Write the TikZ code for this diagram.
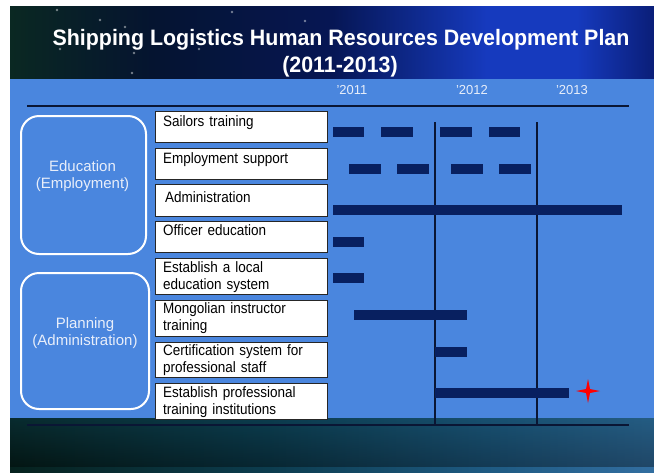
\documentclass[tikz,border=0pt]{standalone}
\usepackage{fontspec}
\setmainfont{Liberation Sans}
\newfontfamily\taskfont[FakeStretch=0.9, WordSpace=0.6]{Liberation Sans}
\newfontfamily\titlefont[FakeStretch=0.96]{Liberation Sans}
\usetikzlibrary{positioning}

\definecolor{slideblue}{RGB}{74,134,222}
\definecolor{barnavy}{RGB}{8,32,96}
\definecolor{rulenavy}{RGB}{10,22,52}
\definecolor{paletext}{RGB}{232,238,250}
\definecolor{hdA}{RGB}{10,40,34}
\definecolor{hdB}{RGB}{5,20,48}
\definecolor{hdC}{RGB}{6,22,84}
\definecolor{hdD}{RGB}{22,58,190}
\definecolor{hdE}{RGB}{10,30,120}
\definecolor{ftA}{RGB}{6,34,30}
\definecolor{ftB}{RGB}{12,60,78}
\definecolor{ftC}{RGB}{30,90,130}
\definecolor{ftD}{RGB}{50,110,160}

\pgfdeclarehorizontalshading{headshade}{100bp}{color(0bp)=(hdA); color(25bp)=(hdA);
  color(36bp)=(hdB); color(50bp)=(hdC); color(62bp)=(hdD); color(69bp)=(hdD);
  color(75bp)=(hdE); color(100bp)=(hdE)}
\pgfdeclarehorizontalshading{footshade}{100bp}{color(0bp)=(ftA); color(25bp)=(ftA);
  color(45bp)=(ftB); color(62bp)=(ftC); color(75bp)=(ftD); color(100bp)=(ftD)}

\begin{document}
\begin{tikzpicture}[x=1pt, y=-1pt,
  task/.style={draw=black!85, fill=white, line width=0.8pt, anchor=north west, minimum width=172, inner sep=0},
  tasklabel/.style={anchor=base west, inner sep=0, text width=165, align=left, font=\taskfont\fontsize{15}{17}\selectfont},
  group/.style={draw=white, line width=2pt, rounded corners=18pt, anchor=north west, inner sep=0},
  grouplabel/.style={align=center, text=paletext, font=\fontsize{15}{17}\selectfont},
  year/.style={text=paletext, font=\fontsize{13}{15}\selectfont, anchor=base},
  bar/.style={fill=barnavy},
  rule/.style={draw=rulenavy, line width=1.3pt}]

  \useasboundingbox (0,0) rectangle (654,472);
  \fill[white] (0,0) rectangle (654,472);

  % Background bands
  \shade[shading=headshade] (10,6) rectangle (654,79);
  \fill[slideblue] (10,79) rectangle (654,418);
  \shade[shading=footshade] (10,418) rectangle (654,472);
  \shade[top color=ftB, bottom color=black, opacity=.35] (10,418) rectangle (654,466);
  \foreach \sx/\sy in {57/10, 100/20, 125/27, 134/53, 132/73, 60/49, 199/49, 232/12, 305/21}
    \fill[white, opacity=.45] (\sx,\sy) circle (1.3);

  % Title
  \node[font=\titlefont\bfseries\fontsize{22.3}{27}\selectfont, text=white, anchor=base] (title) at (341,45) {Shipping Logistics Human Resources Development Plan};
  \node[font=\titlefont\bfseries\fontsize{22.3}{27}\selectfont, text=white, anchor=base] (period) at (340,72) {(2011-2013)};

  % Years
  \node[year] (y11) at (352,94) {'2011};
  \node[year] (y12) at (472,94) {'2012};
  \node[year] (y13) at (572,94) {'2013};

  % Rules
  \coordinate (rtl) at (27,106);  \coordinate (rtr) at (629,106);
  \coordinate (rbl) at (27,425);  \coordinate (rbr) at (629,425);
  \coordinate (v1t) at (435,122); \coordinate (v1b) at (435,425);
  \coordinate (v2t) at (537,122); \coordinate (v2b) at (537,425);
  \draw[rule] (rtl) -- (rtr);
  \draw[rule] (rbl) -- (rbr);
  \draw[rule, line width=1.1pt] (v1t) -- (v1b);
  \draw[rule, line width=1.1pt] (v2t) -- (v2b);

  % Groups
  \node[group, minimum width=125, minimum height=138] (edu) at (20,115) {};
  \node[grouplabel] (edutxt) at (82.5,176) {Education\\(Employment)};
  \node[group, minimum width=128, minimum height=136] (plan) at (20,272) {};
  \node[grouplabel] (plantxt) at (85,333) {Planning\\(Administration)};

  % Tasks
  \node[task, minimum height=31] (sailor) at (155,111) {};
  \node[tasklabel] (sailortxt) at ([xshift=8, yshift=-15]sailor.north west) {Sailors training};
  \node[task, minimum height=31] (employ) at (155,148) {};
  \node[tasklabel] (employtxt) at ([xshift=8, yshift=-15]employ.north west) {Employment support};
  \node[task, minimum height=32] (admin) at (155,184) {};
  \node[tasklabel] (admintxt) at ([xshift=10, yshift=-18]admin.north west) {Administration};
  \node[task, minimum height=31] (officer) at (155,221) {};
  \node[tasklabel] (officertxt) at ([xshift=8, yshift=-14]officer.north west) {Officer education};
  \node[task, minimum height=36] (local) at (155,258) {};
  \node[tasklabel] (localtxt) at ([xshift=8, yshift=-14]local.north west) {Establish a local\\education system};
  \node[task, minimum height=36] (mongol) at (155,300) {};
  \node[tasklabel] (mongoltxt) at ([xshift=8, yshift=-13]mongol.north west) {Mongolian instructor\\training};
  \node[task, minimum height=35] (certif) at (155,342) {};
  \node[tasklabel] (certiftxt) at ([xshift=8, yshift=-13]certif.north west) {Certification system for\\professional staff};
  \node[task, minimum height=36] (inst) at (155,383) {};
  \node[tasklabel] (insttxt) at ([xshift=8, yshift=-14]inst.north west) {Establish professional\\training institutions};

  % Bars
  \foreach \a/\b in {333/364, 381/413, 440/472, 489/520}
    \fill[bar] (\a,127) rectangle (\b,137);
  \foreach \a/\b in {349/381, 397/429, 451/483, 499/531}
    \fill[bar] (\a,164) rectangle (\b,174);
  \fill[bar] (333,205) rectangle (622,215);
  \fill[bar] (333,237) rectangle (364,247);
  \fill[bar] (333,273) rectangle (364,283);
  \fill[bar] (354,310) rectangle (467,320);
  \fill[bar] (435,347) rectangle (467,357);
  \fill[bar] (435,388) rectangle (569,398);

  % Milestone
  \fill[red] (588,379) -- (590,389) -- (600,391) -- (590,393) -- (588,403)
    -- (586,393) -- (576,391) -- (586,389) -- cycle;

\end{tikzpicture}
\end{document}
